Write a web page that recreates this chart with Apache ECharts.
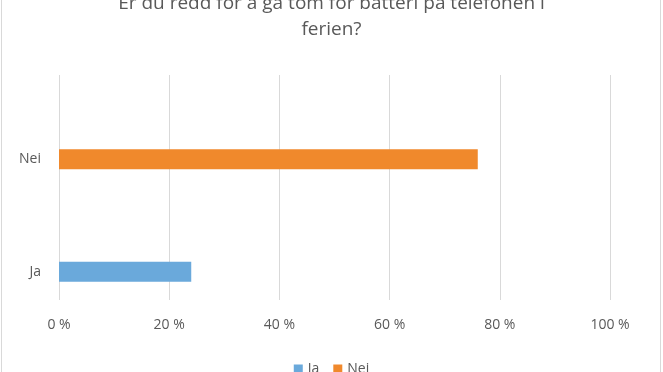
<!DOCTYPE html>
<html><head><meta charset="utf-8">
<script src="https://cdn.jsdelivr.net/npm/echarts@6/dist/echarts.min.js"></script>
<style>html,body{margin:0;padding:0;background:#fff}#c{width:663px;height:372px}</style>
</head><body><div id="c"></div>
<script>
const titleText = 'Er du redd for å gå tom for batteri på telefonen i\nferien?';
const categories = ['Ja', 'Nei'];
const seriesNames = ['Ja', 'Nei'];
const jaValues = [24, 0];
const neiValues = [0, 76];
const tickMin = 0, tickMax = 100, tickStep = 20;

const chart = echarts.init(document.getElementById('c'), null, {renderer: 'canvas'});
const font = '"Open Sans", "Liberation Sans", sans-serif';
chart.setOption({
  animation: false,
  backgroundColor: '#fff',
  graphic: [{type: 'rect', shape: {x: 1.5, y: -10, width: 659, height: 400}, style: {fill: 'none', stroke: '#d9d9d9', lineWidth: 1}, z: -1}],
  title: {text: titleText, left: 'center', top: -14, textStyle: {fontFamily: font, fontSize: 19, fontWeight: 'normal', color: '#595959', lineHeight: 26}},
  legend: {bottom: -9, left: 'center', itemWidth: 9, itemHeight: 9, itemGap: 14, icon: 'rect', data: seriesNames, textStyle: {fontFamily: font, fontSize: 14, color: '#595959'}},
  grid: {left: 59, right: 53, top: 75, bottom: 72, containLabel: false},
  xAxis: {type: 'value', min: tickMin, max: tickMax, interval: tickStep,
    axisLabel: {formatter: v => v + ' %', fontFamily: font, fontSize: 14, color: '#595959', margin: 18},
    axisLine: {show: false}, axisTick: {show: false},
    splitLine: {lineStyle: {color: '#d9d9d9', width: 1}}},
  yAxis: {type: 'category', data: categories,
    axisLabel: {formatter: v => '\n\n' + v, lineHeight: 28, fontFamily: font, fontSize: 14, color: '#595959', margin: 18},
    axisLine: {show: false}, axisTick: {show: false}, splitLine: {show: false}},
  series: [
    {name: '_', type: 'bar', data: [0, 0], barWidth: 20, barGap: '180%', silent: true, itemStyle: {color: 'transparent'}},
    {name: 'Ja', type: 'bar', stack: 's', data: jaValues, barWidth: 20, itemStyle: {color: '#6AA9DB'}},
    {name: 'Nei', type: 'bar', stack: 's', data: neiValues, barWidth: 20, itemStyle: {color: '#F0892C'}}
  ]
});
</script></body></html>
